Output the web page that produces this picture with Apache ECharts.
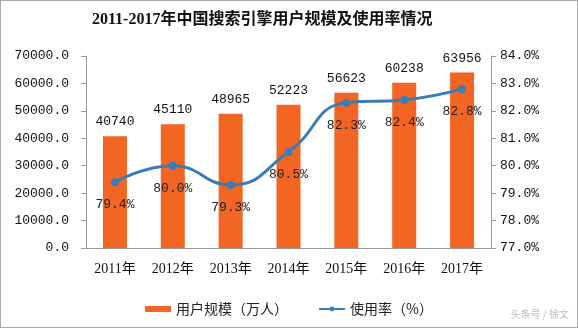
<!DOCTYPE html>
<html><head><meta charset="utf-8">
<script src="https://cdn.jsdelivr.net/npm/echarts@6/dist/echarts.min.js"></script>
<style>html,body{margin:0;padding:0;background:#fff}#c{width:578px;height:328px;box-sizing:border-box;border:1px solid #aaa}</style>
</head><body><div id="c"></div>
<script>
const categories = ['2011年','2012年','2013年','2014年','2015年','2016年','2017年'];
const users = [40740, 45110, 48965, 52223, 56623, 60238, 63956];
const rate = [79.4, 80.0, 79.3, 80.5, 82.3, 82.4, 82.8];
const leftTicks = {min: 0, max: 70000, interval: 10000};
const rightTicks = {min: 77, max: 84, interval: 1};

const chart = echarts.init(document.getElementById('c'));
const monoFont = '"Liberation Mono","Noto Sans CJK SC",monospace';
chart.setOption({
  animation: false,
  title: {text: '2011-2017年中国搜索引擎用户规模及使用率情况', left: 86, top: 6,
    textStyle: {fontFamily: '"Liberation Serif","Noto Sans CJK SC",serif', fontSize: 16, fontWeight: 'bold', color: '#111'}},
  grid: {left: 85, right: 86, top: 55, bottom: 79},
  legend: {bottom: 6, left: 'center', itemWidth: 26, itemHeight: 6, itemGap: 30,
    textStyle: {fontFamily: '"Noto Sans CJK SC",sans-serif', fontSize: 14, color: '#222'},
    data: [{name: '用户规模（万人）', icon: 'rect'}, {name: '使用率（%）'}]},
  xAxis: {type: 'category', data: categories,
    axisLine: {lineStyle: {color: '#999'}}, axisTick: {alignWithLabel: false, lineStyle: {color: '#999'}},
    axisLabel: {fontFamily: '"Liberation Serif","Noto Sans CJK SC",serif', fontSize: 14, color: '#111', margin: 14}},
  yAxis: [
    {type: 'value', min: leftTicks.min, max: leftTicks.max, interval: leftTicks.interval,
      splitLine: {show: false}, axisLine: {show: true, lineStyle: {color: '#999'}}, axisTick: {show: true, lineStyle: {color: '#999'}},
      axisLabel: {fontFamily: monoFont, fontSize: 13, color: '#111', margin: 17, formatter: v => v.toFixed(1)}},
    {type: 'value', min: rightTicks.min, max: rightTicks.max, interval: rightTicks.interval,
      splitLine: {show: false}, axisLine: {show: true, lineStyle: {color: '#999'}}, axisTick: {show: true, lineStyle: {color: '#999'}},
      axisLabel: {fontFamily: monoFont, fontSize: 13, color: '#111', margin: 9, formatter: v => v.toFixed(1) + '%'}}
  ],
  series: [
    {name: '用户规模（万人）', type: 'bar', data: users, barWidth: 24, itemStyle: {color: '#f26522'},
      label: {show: true, position: 'top', distance: 8, fontFamily: monoFont, fontSize: 13, color: '#111'}},
    {name: '使用率（%）', type: 'line', yAxisIndex: 1, data: rate, smooth: true,
      symbol: 'circle', symbolSize: 8, lineStyle: {color: '#3a7db6', width: 3}, itemStyle: {color: '#3a7db6'},
      label: {show: true, position: 'bottom', distance: 12, fontFamily: monoFont, fontSize: 13, color: '#222', formatter: p => p.value.toFixed(1) + '%'}}
  ],
  graphic: [{type: 'text', right: 8, bottom: 8, style: {text: '头条号 / 徐文', fill: '#bbb', fontSize: 10, fontFamily: '"Noto Sans CJK SC",sans-serif'}}]
});
</script></body></html>
